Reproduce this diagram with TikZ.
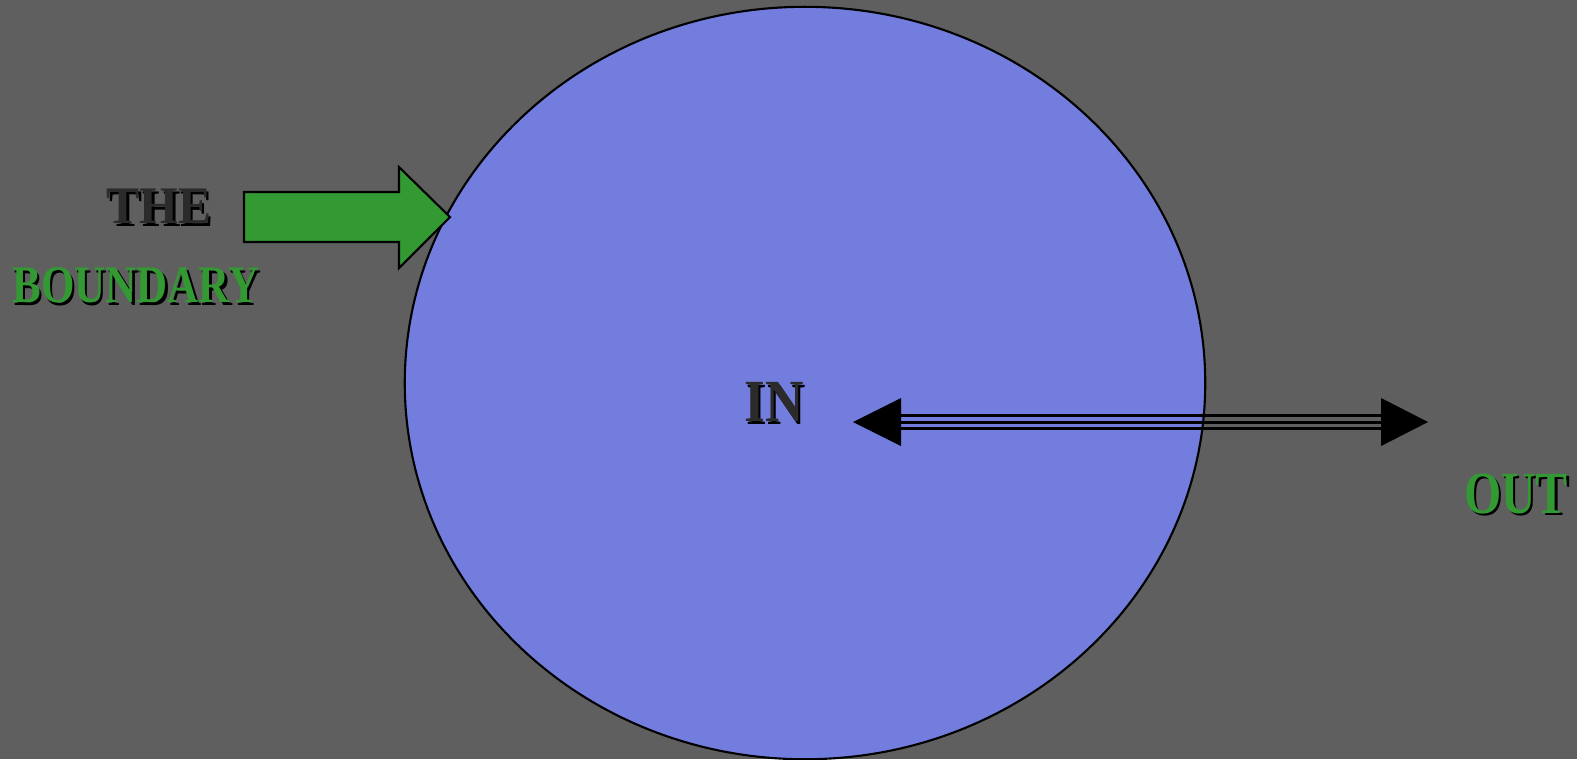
\documentclass[tikz,border=0pt]{standalone}
\usepackage{fontspec}
\setmainfont{Liberation Serif}
\usetikzlibrary{shapes.geometric}
\definecolor{backgray}{RGB}{95,95,95}
\definecolor{insideblue}{RGB}{114,125,222}
\definecolor{boundgreen}{RGB}{51,153,51}
\definecolor{darktext}{RGB}{43,43,43}
% text with a small dark drop shadow, squeezed sideways by #1
\newcommand{\shadowed}[3][0.86]{\scalebox{#1}[1]{\makebox[0pt][l]{\hspace{0.8pt}\raisebox{-0.8pt}{\color{black}#3}}{\color{#2}#3}}}

\begin{document}
\begin{tikzpicture}[x=0.01cm, y=-0.01cm,
  label/.style={inner sep=0pt, font=\bfseries\fontsize{15pt}{18pt}\selectfont},
  biglabel/.style={inner sep=0pt, font=\bfseries\fontsize{17pt}{20pt}\selectfont},
  region/.style={draw=black, line width=0.6pt, fill=insideblue, ellipse,
    inner sep=0pt, minimum width=8cm, minimum height=7.52cm},
  blockarrow/.style={draw=black, line width=0.6pt, fill=boundgreen},
  shaft/.style={line width=0.85pt, black},
  tiphead/.style={fill=black}
]
\useasboundingbox (0,0) rectangle (1577,759);
\fill[backgray] (0,0) rectangle (1577,759);

\node[region] (inside) at (805,383) {};

\node[label] (the) at (159,208) {\shadowed[0.94]{darktext}{THE}};
\node[label] (boundary) at (136,287) {\shadowed[0.815]{boundgreen}{BOUNDARY}};
\node[biglabel] (in) at (774,403) {\shadowed[0.89]{darktext}{IN}};
\node[biglabel] (out) at (1516,495) {\shadowed[0.8]{boundgreen}{OUT}};

% green arrow pointing at the boundary
\draw[blockarrow] (244,192) -- (399,192) -- (399,167) -- (450,217)
  -- (399,268) -- (399,242) -- (244,242) -- cycle;

% two-way arrow across the boundary
\coordinate (lefttip) at (853,422);
\coordinate (leftbase) at (901,422);
\coordinate (rightbase) at (1381,422);
\coordinate (righttip) at (1428,422);
\foreach \dy in {-6.5,0,6.5}
  \draw[shaft] ([yshift=\dy*0.01cm]leftbase) -- ([yshift=\dy*0.01cm]rightbase);
\fill[tiphead] (lefttip) -- ([yshift=0.24cm]leftbase) -- ([yshift=-0.24cm]leftbase) -- cycle;
\fill[tiphead] (righttip) -- ([yshift=0.24cm]rightbase) -- ([yshift=-0.24cm]rightbase) -- cycle;
\end{tikzpicture}
\end{document}
